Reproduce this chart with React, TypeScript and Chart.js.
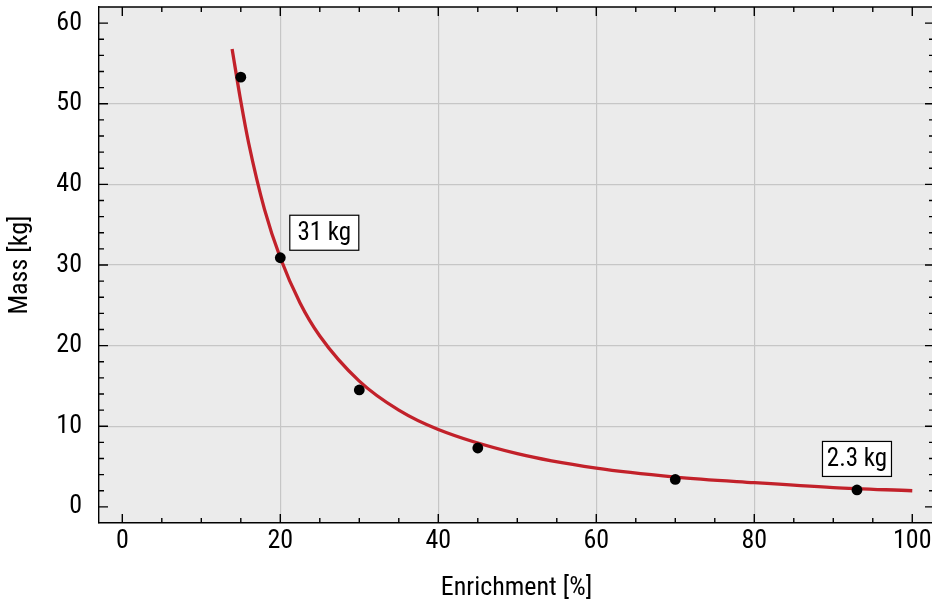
import React, { useEffect, useRef } from "react";
import { Chart, registerables } from "chart.js";

Chart.register(...registerables);

const pointX = [15, 20, 30, 45, 70, 93];
const pointY = [53.3, 30.9, 14.5, 7.3, 3.4, 2.1];
const curveX = [13.9, 15, 16, 18, 20, 22.5, 25, 30, 35, 40, 50, 60, 70, 80, 90, 100];
const curveY = [56.8, 50.3, 45.1, 36.9, 30.9, 25.3, 21.2, 15.6, 12.0, 9.6, 6.6, 4.8, 3.7, 3.0, 2.4, 2.0];
const xTicks = [0, 20, 40, 60, 80, 100];
const yTicks = [0, 10, 20, 30, 40, 50, 60];
const labelTexts = ["31 kg", "2.3 kg"];
const labelPointIndex = [1, 5];

const FONT = '"Roboto Condensed", Roboto, sans-serif';

const zeroPad = (s: any) => {
  s.paddingTop = 0;
  s.paddingBottom = 0;
  s.paddingLeft = 0;
  s.paddingRight = 0;
};

const framePlugin = {
  id: "frame",
  beforeDraw(chart: any) {
    const { ctx, chartArea: a } = chart;
    ctx.save();
    ctx.fillStyle = "#ffffff";
    ctx.fillRect(0, 0, chart.width, chart.height);
    ctx.fillStyle = "#ebebeb";
    ctx.fillRect(a.left, a.top, a.right - a.left, a.bottom - a.top);
    ctx.restore();
  },
  afterDraw(chart: any) {
    const { ctx, chartArea: a, scales } = chart;
    const xs = scales.x;
    const ys = scales.y;
    ctx.save();
    ctx.strokeStyle = "#000";
    ctx.lineWidth = 1.4;
    ctx.beginPath();
    ctx.moveTo(a.left, a.top);
    ctx.lineTo(a.right, a.top);
    ctx.stroke();
    const major = 9;
    const minor = 5;
    ctx.beginPath();
    for (let v = 0; v <= 100; v += 5) {
      const p = xs.getPixelForValue(v);
      const len = v % 20 === 0 ? major : minor;
      ctx.moveTo(p, a.bottom);
      ctx.lineTo(p, a.bottom - len);
      ctx.moveTo(p, a.top);
      ctx.lineTo(p, a.top + len);
    }
    for (let v = 0; v <= 60; v += 2) {
      const p = ys.getPixelForValue(v);
      const len = v % 10 === 0 ? major : minor;
      ctx.moveTo(a.left, p);
      ctx.lineTo(a.left + len, p);
      ctx.moveTo(a.right, p);
      ctx.lineTo(a.right - len, p);
    }
    ctx.stroke();

    // annotations
    ctx.font = `25px ${FONT}`;
    ctx.textAlign = "center";
    ctx.textBaseline = "middle";
    const offsets = [
      [44, -25],
      [0, -31],
    ];
    labelTexts.forEach((t, i) => {
      const idx = labelPointIndex[i];
      const px = xs.getPixelForValue(pointX[idx]) + offsets[i][0];
      const py = ys.getPixelForValue(pointY[idx]) + offsets[i][1];
      const w = 69;
      const h = 35;
      ctx.fillStyle = "#fff";
      ctx.fillRect(px - w / 2, py - h / 2, w, h);
      ctx.strokeStyle = "#000";
      ctx.lineWidth = 1.2;
      ctx.strokeRect(px - w / 2, py - h / 2, w, h);
      ctx.fillStyle = "#000";
      ctx.fillText(t, px, py + 1);
    });
    ctx.restore();
  },
};

export default function App() {
  const ref = useRef<HTMLCanvasElement>(null);
  useEffect(() => {
    document.body.style.margin = "0";
    document.body.style.overflow = "hidden";
    document.documentElement.style.overflow = "hidden";
    const chart = new Chart(ref.current!, {
      type: "scatter",
      data: {
        datasets: [
          {
            data: pointX.map((x, i) => ({ x, y: pointY[i] })),
            backgroundColor: "#000",
            borderColor: "#000",
            pointRadius: 5.4,
            borderWidth: 0,
            showLine: false,
          },
          {
            data: curveX.map((x, i) => ({ x, y: curveY[i] })),
            showLine: true,
            borderColor: "#c2212a",
            borderWidth: 3.3,
            pointRadius: 0,
            cubicInterpolationMode: "monotone",
            fill: false,
          },
        ],
      },
      options: {
        animation: false,
        responsive: true,
        maintainAspectRatio: false,
        layout: { autoPadding: false, padding: { top: 7, right: 0, left: 0, bottom: 0 } },
        plugins: { legend: { display: false }, tooltip: { enabled: false } },
        scales: {
          x: {
            type: "linear",
            min: -2.95,
            max: 102.75,
            afterBuildTicks: (s: any) => {
              s.ticks = xTicks.map((v) => ({ value: v }));
            },
            afterFit: (s: any) => {
              s.height = 78;
              zeroPad(s);
            },
            grid: {
              drawTicks: false,
              lineWidth: 1.2,
              color: (c: any) =>
                c.tick && c.tick.value > 0 && c.tick.value < 100 ? "#c6c6c6" : "rgba(0,0,0,0)",
            },
            border: { display: true, color: "#000", width: 1.4 },
            ticks: {
              padding: 3,
              color: "#000",
              font: { family: FONT, size: 26 },
              maxRotation: 0,
              callback: (v: any) => String(v),
            },
            title: {
              display: true,
              text: "Enrichment [%]",
              color: "#000",
              font: { family: FONT, size: 26 },
              padding: { top: 0, bottom: -3 },
            },
          },
          y: {
            type: "linear",
            min: -2,
            max: 62,
            afterBuildTicks: (s: any) => {
              s.ticks = yTicks.map((v) => ({ value: v }));
            },
            afterFit: (s: any) => {
              s.width = 99;
              zeroPad(s);
            },
            grid: {
              drawTicks: false,
              lineWidth: 1.2,
              color: (c: any) =>
                c.tick && c.tick.value > 0 && c.tick.value < 60 ? "#c6c6c6" : "rgba(0,0,0,0)",
            },
            border: { display: true, color: "#000", width: 1.4 },
            ticks: {
              padding: 17,
              color: "#000",
              font: { family: FONT, size: 26 },
              callback: (v: any) => String(v),
            },
            title: {
              display: true,
              text: "Mass [kg]",
              color: "#000",
              font: { family: FONT, size: 26 },
              padding: { top: 5, bottom: 0 },
            },
          },
        },
      },
      plugins: [framePlugin],
    });
    return () => chart.destroy();
  }, []);
  return (
    <div style={{ position: "absolute", left: 0, top: 0, width: 932, height: 601, overflow: "hidden" }}>
      <div style={{ position: "relative", width: 934, height: 601 }}>
        <canvas ref={ref} />
      </div>
    </div>
  );
}
